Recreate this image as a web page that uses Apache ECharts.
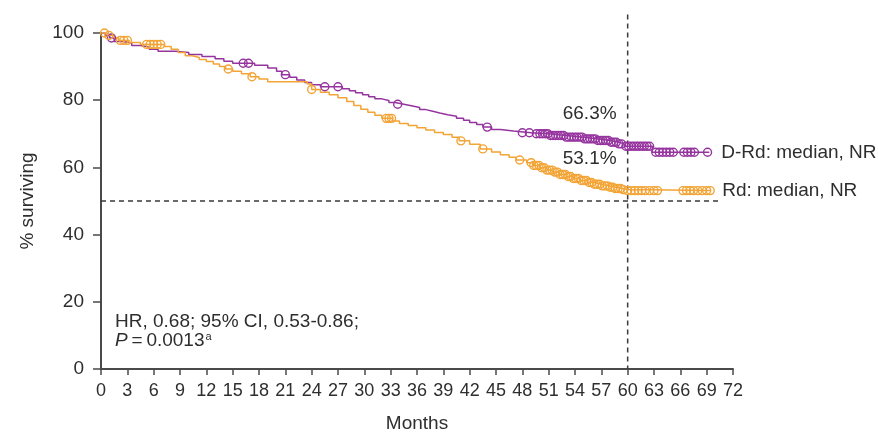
<!DOCTYPE html>
<html>
<head>
<meta charset="utf-8">
<script src="https://cdn.jsdelivr.net/npm/echarts@6/dist/echarts.min.js"></script>
<style>
  html, body { margin: 0; padding: 0; background: #ffffff; }
  #chart { width: 878px; height: 438px; }
</style>
</head>
<body>
<div id="chart"></div>
<script>
// Kaplan-Meier overall survival, D-Rd vs Rd (months, % surviving)
const drdTime = [0, 0.5, 1.0, 1.5, 2.5, 3.5, 4.5, 5.5, 6.5, 8.5, 10.0, 11.5, 13.0, 14.0, 15.0, 17.5, 19.0, 20.0, 20.6, 21.5,
  22.3, 23.2, 24.0, 25.0, 27.5, 28.3, 29.0, 29.8, 30.5, 31.2, 32.0, 32.8, 33.5, 34.5, 35.5, 36.3, 37.0, 37.8, 38.6, 39.5,
  40.5, 41.3, 42.0, 42.8, 43.5, 44.5, 45.5, 47.0, 49.0, 51.0, 53.0, 55.0, 56.5, 58.0, 59.0, 59.6, 62.8, 69.3];
const drdSurv = [100, 99.3, 98.5, 97.5, 97.0, 96.3, 95.8, 95.2, 94.6, 94.2, 93.6, 93.0, 92.3, 91.6, 91.0, 90.4, 89.6, 88.6, 87.6, 86.8,
  86.0, 85.3, 84.6, 84.0, 83.4, 82.8, 82.2, 81.6, 81.0, 80.4, 79.9, 79.3, 78.8, 78.3, 77.8, 77.2, 76.7, 76.2, 75.7, 75.2,
  74.6, 74.0, 73.4, 72.8, 72.0, 71.3, 70.8, 70.3, 70.0, 69.5, 69.0, 68.5, 68.0, 67.5, 67.0, 66.3, 64.5, 64.5];

const rdTime = [0, 0.8, 1.5, 2.0, 3.2, 4.5, 7.2, 8.0, 8.8, 9.6, 10.4, 11.2, 12.0, 12.8, 13.5, 14.2, 15.0, 16.0, 17.0, 18.0,
  19.0, 23.5, 24.0, 25.0, 26.0, 27.0, 28.0, 28.8, 29.6, 30.4, 31.2, 32.0, 33.2, 34.0, 35.0, 36.0, 37.0, 38.0, 39.0, 40.0,
  40.8, 42.0, 43.2, 44.5, 45.5, 46.5, 47.3, 48.5, 49.3, 50.0, 50.8, 51.5, 52.2, 53.0, 53.8, 54.6, 55.4, 56.2, 57.0, 57.8,
  58.6, 59.4, 60.0, 69.4];
const rdSurv = [100, 99.3, 98.6, 97.8, 97.2, 96.6, 96.0, 95.2, 94.2, 93.2, 92.7, 92.1, 91.5, 90.8, 90.0, 89.3, 88.6, 87.9, 87.0, 86.3,
  85.5, 84.8, 83.2, 82.4, 81.6, 80.7, 79.6, 78.4, 77.3, 76.4, 75.5, 74.6, 73.8, 73.1, 72.5, 71.8, 71.1, 70.4, 69.8, 69.0,
  67.9, 66.9, 65.5, 64.6, 63.8, 63.0, 62.2, 61.4, 60.6, 59.9, 59.2, 58.6, 57.9, 57.3, 56.7, 56.1, 55.5, 55.0, 54.5, 54.1,
  53.7, 53.4, 53.1, 53.1];

// censoring times (months)
const drdCensor = [1.2, 16.2, 16.8, 21.0, 25.5, 27.0, 33.8, 44.0, 48.0, 48.8,
  49.6, 50.0, 50.3, 50.6, 50.9, 51.2, 51.5, 51.8, 52.1, 52.4, 52.7, 53.0, 53.3, 53.6, 53.9, 54.2, 54.5, 54.8,
  55.1, 55.4, 55.7, 56.0, 56.3, 56.6, 56.9, 57.2, 57.5, 57.8, 58.1, 58.4, 58.7, 59.0, 59.3, 59.8, 60.1, 60.4,
  60.7, 61.0, 61.3, 61.6, 61.9, 62.2, 62.5, 63.2, 63.6, 64.0, 64.4, 64.8, 65.2, 66.4, 66.8, 67.2, 67.6, 69.1];
const rdCensor = [0.4, 0.9, 2.2, 2.6, 3.0, 5.2, 5.6, 6.0, 6.4, 6.8, 14.5, 17.2, 24.0, 32.5, 32.8, 33.1, 41.0, 43.5, 47.7,
  49.0, 49.3, 49.6, 49.9, 50.2, 50.5, 50.8, 51.1, 51.4, 51.7, 52.0, 52.3, 52.6, 52.9, 53.2, 53.5, 53.8, 54.1,
  54.4, 54.7, 55.0, 55.3, 55.6, 55.9, 56.2, 56.5, 56.8, 57.1, 57.4, 57.7, 58.0, 58.3, 58.6, 58.9, 59.2, 59.5,
  60.0, 60.4, 60.8, 61.2, 61.6, 62.0, 62.5, 63.0, 63.4, 66.3, 66.7, 67.1, 67.5, 68.0, 68.5, 69.0, 69.4];

// landmark estimates at 60 months
const landmarkMonth = 60;
const drdLandmark = 66.3;
const rdLandmark = 53.1;
const medianLine = 50;
const medianLineEnd = 70.3;

const seriesNames = ['D-Rd: median, NR', 'Rd: median, NR'];
const xTickStep = 3, xMax = 72;
const yTickStep = 20, yMax = 100;

const PURPLE = '#96349f';
const ORANGE = '#f3a436';
const INK = '#2e2e2e';
const FONT = '"Liberation Sans", Arial, Helvetica, sans-serif';

function survivalAt(times, surv, t) {
  let s = surv[0];
  for (let i = 0; i < times.length; i++) {
    if (times[i] <= t) s = surv[i]; else break;
  }
  return s;
}
const zip = (a, b) => a.map((v, i) => [v, b[i]]);
const censorPoints = (c, times, surv) => c.map(t => [t, survivalAt(times, surv, t)]);

const chart = echarts.init(document.getElementById('chart'), null, { renderer: 'canvas' });

const dashStyle = { color: '#3a3a3a', width: 1.5, type: [5, 4] };
const censorSymbol = (color) => ({
  type: 'scatter', symbol: 'circle', symbolSize: 8, silent: true, z: 4,
  itemStyle: { color: 'rgba(255,255,255,0)', borderColor: color, borderWidth: 1.4, opacity: 1 }
});
const plainText = { fontFamily: FONT, color: INK, textBorderWidth: 0, textShadowBlur: 0 };

chart.setOption({
  animation: false,
  backgroundColor: '#ffffff',
  textStyle: { fontFamily: FONT },
  grid: { left: 101, right: 145, top: 33, bottom: 68 },
  xAxis: {
    type: 'value', min: 0, max: xMax, interval: xTickStep,
    name: 'Months', nameLocation: 'middle', nameGap: 45,
    nameTextStyle: Object.assign({ fontSize: 19 }, plainText),
    axisLine: { lineStyle: { color: '#4a4a4a', width: 2 } },
    axisTick: { length: 6, lineStyle: { color: '#4a4a4a', width: 1.5 } },
    axisLabel: Object.assign({ fontSize: 18, margin: 13 }, plainText),
    splitLine: { show: false }
  },
  yAxis: {
    type: 'value', min: 0, max: yMax, interval: yTickStep,
    name: '% surviving', nameLocation: 'middle', nameGap: 64, nameRotate: 90,
    nameTextStyle: Object.assign({ fontSize: 19 }, plainText),
    axisLine: { show: true, lineStyle: { color: '#4a4a4a', width: 2 } },
    axisTick: { show: true, length: 8, lineStyle: { color: '#4a4a4a', width: 1.5 } },
    axisLabel: Object.assign({ fontSize: 19, margin: 17 }, plainText),
    splitLine: { show: false }
  },
  series: [
    {
      type: 'line', silent: true, symbol: 'none', z: 1,
      data: [[0, medianLine], [medianLineEnd, medianLine]],
      lineStyle: dashStyle
    },
    {
      type: 'line', silent: true, symbol: 'none', z: 1, clip: false,
      data: [[landmarkMonth, 105.5], [landmarkMonth, 0]],
      lineStyle: dashStyle
    },
    {
      name: seriesNames[0], type: 'line', step: 'end', symbol: 'none', z: 3,
      data: zip(drdTime, drdSurv),
      lineStyle: { color: PURPLE, width: 1.5 },
      endLabel: Object.assign({ show: true, formatter: seriesNames[0], distance: 12, fontSize: 19 }, plainText)
    },
    {
      name: seriesNames[1], type: 'line', step: 'end', symbol: 'none', z: 3,
      data: zip(rdTime, rdSurv),
      lineStyle: { color: ORANGE, width: 1.5 },
      endLabel: Object.assign({ show: true, formatter: seriesNames[1], distance: 12, fontSize: 19 }, plainText)
    },
    Object.assign(censorSymbol(PURPLE), { data: censorPoints(drdCensor, drdTime, drdSurv) }),
    Object.assign(censorSymbol(ORANGE), { data: censorPoints(rdCensor, rdTime, rdSurv) }),
    {
      type: 'scatter', symbolSize: 0, silent: true, z: 5,
      itemStyle: { opacity: 1 },
      data: [[landmarkMonth, drdLandmark], [landmarkMonth, rdLandmark]],
      label: Object.assign({
        show: true, position: 'inside', offset: [-38, -32], fontSize: 19,
        formatter: p => p.value[1].toFixed(1) + '%'
      }, plainText)
    }
  ],
  graphic: [
    {
      type: 'text', left: 115, top: 312, silent: true,
      style: { text: 'HR, 0.68; 95% CI, 0.53-0.86;', fontSize: 19, fontFamily: FONT, fill: INK }
    },
    {
      type: 'text', left: 115, top: 331, silent: true,
      style: {
        text: '{i|P}\u2009=\u20090.0013{s|a}', fontSize: 19, fontFamily: FONT, fill: INK,
        rich: {
          i: { fontStyle: 'italic', fontSize: 19, fontFamily: FONT, fill: INK },
          s: { fontSize: 11, fontFamily: FONT, fill: INK, verticalAlign: 'top', padding: [0, 0, 8, 1] }
        }
      }
    }
  ]
});
</script>
</body>
</html>
